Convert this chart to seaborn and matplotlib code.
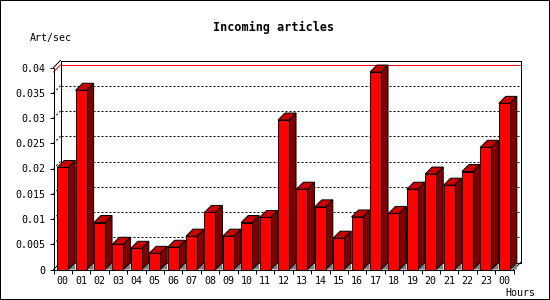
import numpy as np
import pandas as pd
import matplotlib
matplotlib.use("Agg")
import matplotlib.pyplot as plt
import seaborn as sns
from matplotlib.patches import Polygon, Rectangle

# ---- data ----
hours = ["00", "01", "02", "03", "04", "05", "06", "07", "08", "09", "10", "11",
         "12", "13", "14", "15", "16", "17", "18", "19", "20", "21", "22", "23", "00"]
rates = [0.0202, 0.0355, 0.0093, 0.0050, 0.0042, 0.0032, 0.0044, 0.0066, 0.0113,
         0.0066, 0.0093, 0.0103, 0.0296, 0.0159, 0.0124, 0.0062, 0.0104, 0.0391,
         0.0111, 0.0159, 0.0189, 0.0167, 0.0194, 0.0242, 0.0329]
ytick_values = [0, 0.005, 0.01, 0.015, 0.02, 0.025, 0.03, 0.035, 0.04]
ytick_labels = ["0", "0.005", "0.01", "0.015", "0.02", "0.025", "0.03", "0.035", "0.04"]
title_text = "Incoming articles"
ylabel_text = "Art/sec"
xlabel_text = "Hours"

# ---- style ----
sns.set_theme(style="white")
plt.rcParams["font.family"] = ["DejaVu Sans Mono", "DejaVu Sans"]
plt.rcParams["lines.scale_dashes"] = False

LW = 0.72

W, H = 550, 300
fig = plt.figure(figsize=(W / 100, H / 100), dpi=100)
fig.patch.set_facecolor("white")

L, R, B, T = 53.5, 513.5, 269.5, 67.5
ax = fig.add_axes([L / W, 1 - B / H, (R - L) / W, (B - T) / H])
ax.set_facecolor("white")

n = len(hours)
df = pd.DataFrame({"slot": list(range(n)), "rate": rates})
sns.barplot(data=df, x="slot", y="rate", color="#ff0000", saturation=1,
            width=0.6, edgecolor="black", linewidth=LW, ax=ax, zorder=3)
bars = list(ax.patches)

ymax = ytick_values[-1]
ax.set_xlim(-0.5, n - 0.5)
ax.set_ylim(0, ymax)

# depth of the 3D effect (7 px) in data units
depth_px = 7
dx = depth_px / ((R - L) / n)
dy = depth_px / ((B - T) / ymax)

x_left, x_right = -0.5, n - 0.5
dash = (0, (1.44, 1.44))


def seg(xs, ys, **kw):
    """straight segment; horizontal / vertical ones get pixel snapping"""
    base = dict(clip_on=False, solid_capstyle="projecting")
    base.update(kw)
    return ax.plot(xs, ys, **base)


# back wall grid lines (dotted), with the projection on the left side wall
for v in ytick_values[1:-1]:
    seg([x_left, x_left + dx], [v, v + dy], color="black", lw=LW, ls=dash, zorder=1)
    seg([x_left + dx, x_right + dx], [v + dy, v + dy], color="black", lw=LW,
        ls=dash, zorder=1, snap=True)

# max line
vmax = max(rates)
seg([x_left, x_left + dx], [vmax, vmax + dy], color="#ff0000", lw=LW, zorder=1.5)
seg([x_left + dx, x_right + dx], [vmax + dy, vmax + dy], color="#ff0000", lw=LW,
    zorder=1.5, snap=True)

# back box
seg([x_left, x_left + dx], [ymax, ymax + dy], color="black", lw=LW, zorder=2)
seg([x_left + dx, x_right + dx], [ymax + dy, ymax + dy], color="black", lw=LW,
    zorder=2, snap=True)
seg([x_right + dx, x_right + dx], [ymax + dy, dy], color="black", lw=LW,
    zorder=2, snap=True)
seg([x_left + dx, x_left + dx], [ymax + dy, dy], color="black", lw=LW,
    zorder=2, snap=True)
seg([x_left + dx, x_right + dx], [dy, dy], color="black", lw=LW, zorder=2, snap=True)
seg([x_right, x_right + dx], [0, dy], color="black", lw=LW, zorder=2)
seg([x_left, x_left + dx], [0, dy], color="black", lw=LW, zorder=2)

# 3D faces of the bars
for p in bars:
    x0 = p.get_x()
    x1 = x0 + p.get_width()
    h = p.get_height()
    floor = Polygon([(x1, 0), (x1 + dx, dy), (x1 + dx, 0)], closed=True,
                    facecolor="#808080", edgecolor="none", zorder=2.5, clip_on=False)
    side = Polygon([(x1, 0), (x1, h), (x1 + dx, h + dy), (x1 + dx, dy)], closed=True,
                   facecolor="#800000", edgecolor="black", lw=LW, zorder=3,
                   clip_on=False)
    top = Polygon([(x0, h), (x1, h), (x1 + dx, h + dy), (x0 + dx, h + dy)], closed=True,
                  facecolor="#c80000", edgecolor="black", lw=LW, zorder=3,
                  clip_on=False)
    ax.add_patch(floor)
    ax.add_patch(side)
    ax.add_patch(top)
    p.set_zorder(3.5)

# spines
for s in ["top", "right"]:
    ax.spines[s].set_visible(False)
for s in ["left", "bottom"]:
    ax.spines[s].set_color("black")
    ax.spines[s].set_linewidth(LW)
    ax.spines[s].set_zorder(4)

# ticks
ax.set_yticks(ytick_values, ytick_labels)
ax.tick_params(axis="y", left=True, length=2.9, width=LW, pad=3.0,
               labelsize=7.2, colors="black", direction="out")
ax.set_xticks(list(range(n)), hours)
ax.set_xticks(np.arange(-0.5, n, 1), minor=True)
ax.tick_params(axis="x", which="major", bottom=True, length=0, pad=4.4,
               labelsize=7.2, colors="black")
ax.tick_params(axis="x", which="minor", bottom=True, length=2.6, width=LW,
               color="black", direction="out")
ax.set_xlabel("")
ax.set_ylabel("")
ax.grid(False)

# texts
fig.text(274 / W, 1 - 31 / H, title_text, ha="center", va="baseline",
         fontsize=8.5, fontweight="bold", color="black")
fig.text(30 / W, 1 - 41 / H, ylabel_text, ha="left", va="baseline",
         fontsize=7.2, color="black")
fig.text(505 / W, 1 - 295.5 / H, xlabel_text, ha="left", va="baseline",
         fontsize=7.2, color="black")

# outer frame (1 px visible on every edge)
fig.add_artist(Rectangle((0, 0), 1, 1, transform=fig.transFigure, fill=False,
                         edgecolor="black", lw=1.44, snap=False))

fig.savefig("out.png", dpi=100, facecolor="white")
